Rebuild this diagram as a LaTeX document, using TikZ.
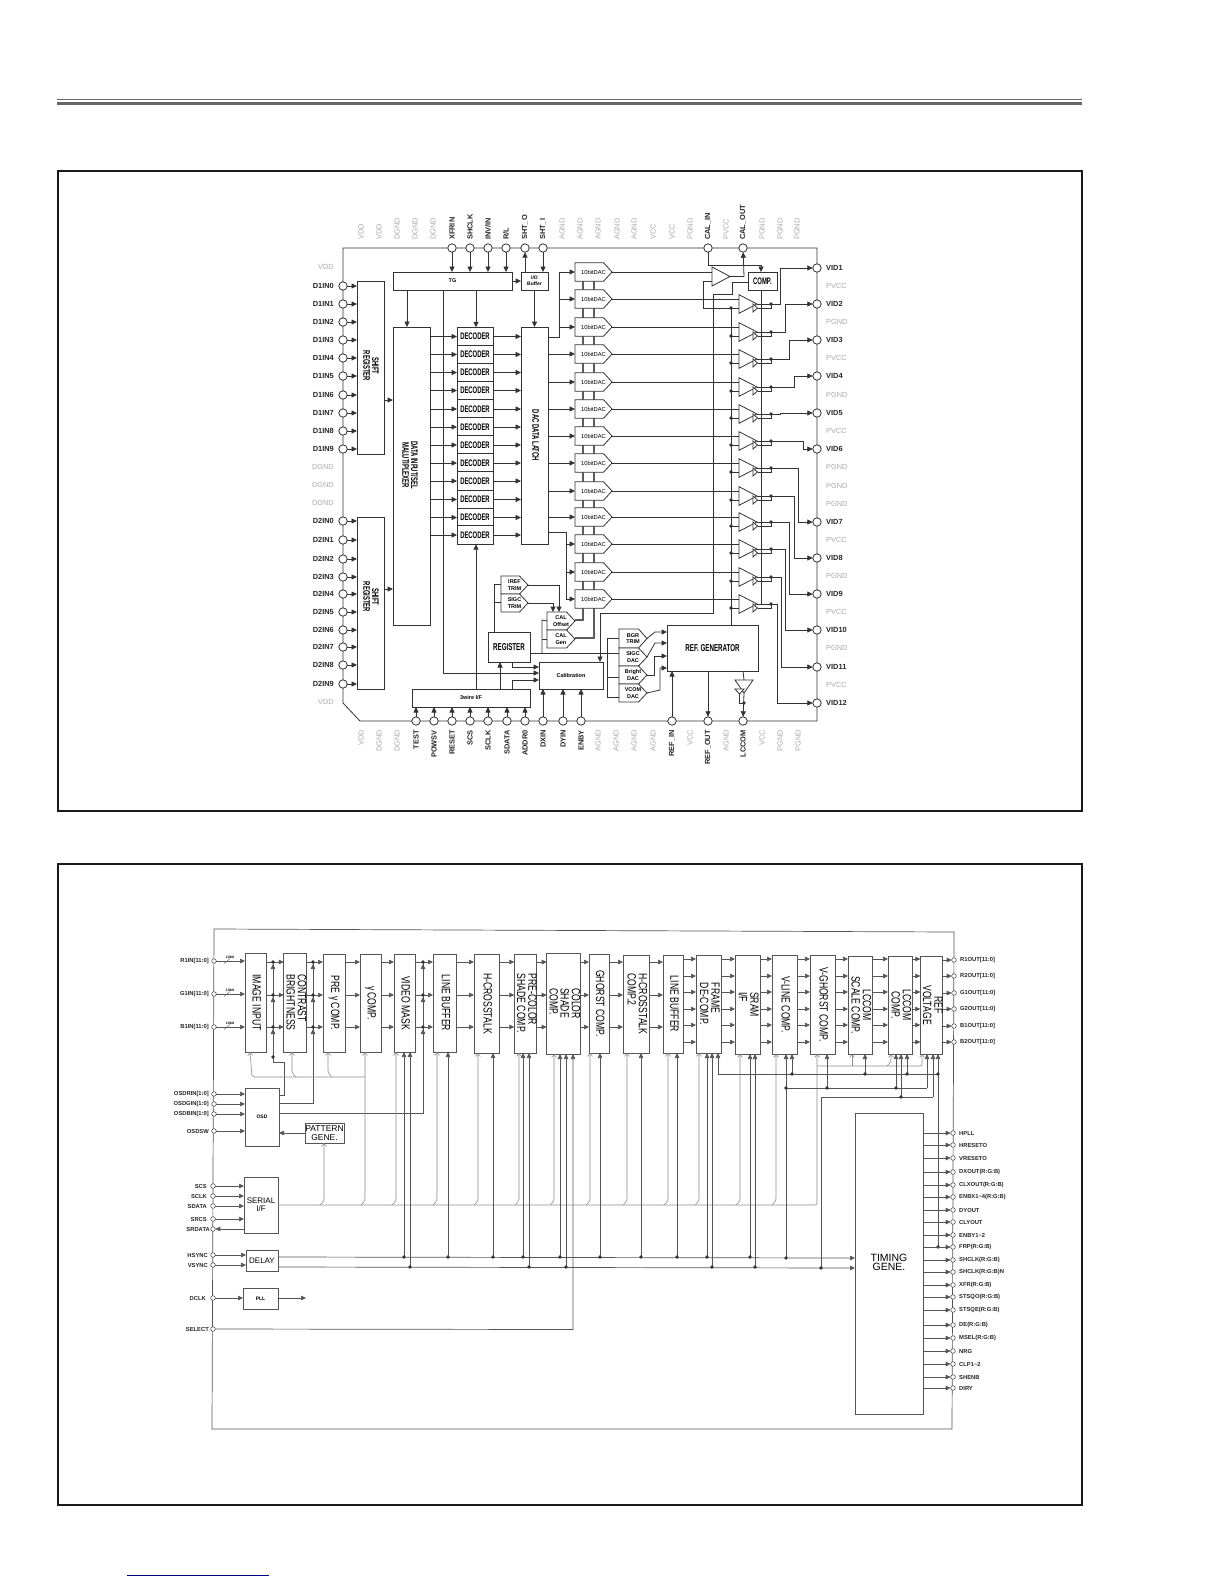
\documentclass[tikz,border=0pt]{standalone}
\usepackage{fontspec}
\usepackage{graphicx}
\setmainfont{Liberation Sans}
\newfontfamily\nar{Liberation Sans}[FakeStretch=0.72]
\newfontfamily\narb{Liberation Sans}[FakeStretch=0.62]
\usetikzlibrary{arrows.meta}
\definecolor{wire}{HTML}{333333}
\definecolor{wireb}{HTML}{555555}
\definecolor{graytxt}{HTML}{ABABAB}
\definecolor{linkblue}{HTML}{00008B}
\renewcommand\arraystretch{.78}
\newcommand\rotC[1]{\rotatebox{-90}{\begin{tabular}{@{}c@{}}#1\end{tabular}}}
\newcommand\rotL[1]{\rotatebox{-90}{\begin{tabular}{@{}l@{}}#1\end{tabular}}}
\tikzset{
  w/.style={draw=wire,line width=.8},
  arr/.style={w,-{Triangle[length=5.5pt,width=5pt]}},
  wb/.style={draw=wireb,line width=.7},
  arb/.style={wb,-{Triangle[length=5pt,width=4.5pt]}},
  gw/.style={draw=black!45,line width=.6,rounded corners=2pt},
  oa/.style={-{Straight Barb[length=3pt,width=5pt]}},
  blk/.style={draw=wire,line width=.9,fill=white,inner sep=0,outer sep=0,align=center},
  blkb/.style={draw=wireb,line width=.8,fill=white,inner sep=0,outer sep=0,align=center,font=\nar\fontsize{12}{12}\selectfont},
  pen/.style={draw=wire,line width=.8,fill=white},
  pinT/.style={circle,draw=wire,line width=.8,fill=white,minimum size=8.4pt,inner sep=0,outer sep=0},
  pinB/.style={circle,draw=wireb,line width=.6,fill=white,minimum size=4.6pt,inner sep=0,outer sep=0},
  bl/.style={inner sep=0,font=\bfseries\fontsize{7.4}{8}\selectfont,text=black!85},
  gl/.style={inner sep=0,font=\fontsize{7.4}{8}\selectfont,text=graytxt},
  bs/.style={inner sep=0,font=\bfseries\fontsize{5.8}{6}\selectfont,text=black!85},
  sm/.style={inner sep=0,align=center,font=\bfseries\fontsize{5.5}{6.6}\selectfont},
}
\newcommand\bx[6][]{\node[blk,minimum width={((#4)-(#2))*1pt},minimum height={((#5)-(#3))*1pt},#1] (#6) at ({(#2+#4)/2},{(#3+#5)/2}) {};}
\newcommand\bxt[7][]{\node[blk,minimum width={((#4)-(#2))*1pt},minimum height={((#5)-(#3))*1pt},#1] (#6) at ({(#2+#4)/2},{(#3+#5)/2}) {#7};}
\newcommand\bbx[7][]{\node[blkb,minimum width={((#4)-(#2))*1pt},minimum height={((#5)-(#3))*1pt},#1] (#6) at ({(#2+#4)/2},{(#3+#5)/2}) {#7};}
\newcommand\penta[7][sm]{%
  \draw[pen] (#3,#4) -- (#5,#4) -- ({#5+8.5},{(#4+#6)/2}) -- (#5,#6) -- (#3,#6) -- cycle;
  \node[#1,minimum width={(#5+8.5-#3)*1pt},minimum height={((#6)-(#4))*1pt},outer sep=0] (#2) at ({(#3+#5+8.5)/2},{(#4+#6)/2}) {#7};}
\newcommand\tri[5]{%
  \draw[pen] (#2,#3) -- (#4,{(#3+#5)/2}) -- (#2,#5) -- cycle;
  \node[inner sep=0,outer sep=0,minimum width={((#4)-(#2))*1pt},minimum height={((#5)-(#3))*1pt}] (#1) at ({(#2+#4)/2},{(#3+#5)/2}) {};}
\newcommand\dotat[1]{\fill[wire] (#1) circle (1.8);}
\begin{document}
\begin{tikzpicture}[x=1pt,y=-1pt]
\useasboundingbox (0,0) rectangle (1224,1584);
\fill[white] (0,0) rectangle (1224,1584);
% page furniture
\draw[black!60,line width=1.3] (57,99.5) -- (1082,99.5);
\draw[black!60,line width=3] (57,103.5) -- (1082,103.5);
\draw[black!90,line width=2] (57.7,170.7) rectangle (1081.5,811);
\draw[black!90,line width=2] (57.7,863.5) rectangle (1081.5,1504.7);
\draw[linkblue,line width=1] (127,1575) -- (269,1575);
%%%%%%%%%%%%%%%%%%%%%%%%%%%% TOP DIAGRAM
\draw[w] (343,248) -- (817,248) -- (817,721) -- (360,721) -- (343,703) -- cycle;
% power labels
\foreach \x/\lab [count=\i] in {361/VDD,379/VDD,397/DGND,415/DGND,433/DGND,562/AGND,580/AGND,598/AGND,617/AGND,634/AGND,653/VCC,672/VCC,690/PGND,726/PVCC,762/PGND,780/PGND,797/PGND}
  \node[gl,rotate=90,anchor=west] (tg\i) at (\x,240) {\lab};
\foreach \x/\lab in {452/XFRIN,470/SHCLK,488/{INV/IN},506/{R/L},525/SHT\_O,543/SHT\_I,708/CAL\_IN,743/CAL\_OUT}{
  \node[pinT] (tp\x) at (\x,248) {};
  \node[bl,rotate=90,anchor=west] (tl\x) at (\x,240) {\lab};}
\foreach \x/\lab [count=\i] in {361/VDD,379/DGND,397/DGND,598/AGND,616/AGND,634/AGND,653/AGND,690/VCC,726/AGND,762/VCC,780/PGND,798/PGND}
  \node[gl,rotate=90,anchor=east] (bg\i) at (\x,730) {\lab};
\foreach \x/\lab in {416/TEST,434/POWSV,452/RESET,470/SCS,488/SCLK,507/SDATA,525/ADDR0,543/DXIN,563/DYIN,581/ENBY,672/REF\_IN,708/REF\_OUT,743/LCCOM}{
  \node[pinT] (bp\x) at (\x,721) {};
  \node[bl,rotate=90,anchor=east] (bl\x) at (\x,730) {\lab};}
\foreach \y/\lab [count=\i] in {267/VDD,467/DGND,485/DGND,503/DGND,702/VDD}
  \node[gl,anchor=east] (lg\i) at (334,\y) {\lab};
\foreach \y/\lab [count=\i] in {286/PVCC,322/PGND,358/PVCC,395/PGND,431/PVCC,467/PGND,486/PGND,504/PGND,540/PVCC,576/PGND,612/PVCC,648/PGND,685/PVCC}
  \node[gl,anchor=west] (rg\i) at (826,\y) {\lab};
% blocks
\bx{357}{281}{384}{454}{sr1}
\node[inner sep=0,font=\narb\bfseries\fontsize{9.5}{9.5}\selectfont] (sr1t) at (370,366) {\rotC{SHIFT\\REGISTER}};
\bx{357}{517}{384}{689}{sr2}
\node[inner sep=0,font=\narb\bfseries\fontsize{9.5}{9.5}\selectfont] (sr2t) at (370,597) {\rotC{SHIFT\\REGISTER}};
\bxt[font=\bfseries\fontsize{5.5}{6}\selectfont]{393}{272}{512}{290}{tg}{TG}
\bxt[font=\bfseries\fontsize{5}{6}\selectfont]{521}{272}{548}{290}{io}{I/O\\Buffer}
\bx{393}{327}{430}{625}{mux}
\node[inner sep=0,font=\narb\bfseries\fontsize{9.5}{9.5}\selectfont] (muxt) at (409,465) {\rotC{DATA INPUT/SEL\\MALUTIPLEXER}};
\bxt[font=\narb\bfseries\fontsize{9.5}{9.5}\selectfont]{521}{327}{548}{544}{latch}{\rotC{DAC DATA LATCH}}
\foreach \cy [count=\i] in {336.5,354.5,372.5,390.5,409,427,445,463,481,499.5,517.5,535}{
  \bxt[font=\narb\bfseries\fontsize{9.5}{10}\selectfont]{457}{\cy-9.2}{493}{\cy+9.2}{dec\i}{DECODER}}
\foreach \i in {1,...,12}{
  \draw[arr] (mux.east |- dec\i) -- (dec\i.west);
  \draw[arr] (dec\i.east) -- (latch.west |- dec\i);}
% power bars between DACs
\draw[draw=wire!80,line width=1.1] (583,272) -- (583,620) -- (575,620);
\draw[draw=wire!80,line width=1.1] (594,272) -- (594,638) -- (575,638);
% DACs
\foreach \cy [count=\i] in {272,299,327,354,382,409,436,463,491,517,544,572,599}{
  \penta[inner sep=0,font=\fontsize{5.8}{6}\selectfont]{dac\i}{575}{\cy-9.3}{603.5}{\cy+9.3}{10bitDAC}}
% latch to DAC
\draw[w] (latch.east |- 0,337) -- (559,337) -- (559,272);
\foreach \i in {1,2,3} \draw[arr] (559,0 |- dac\i) -- (dac\i.west);
\foreach \i in {4,...,10} \draw[arr] (latch.east |- dac\i) -- (dac\i.west);
\draw[w] (latch.east |- 0,532) -- (566,532) -- (566,599);
\foreach \i in {11,12,13} \draw[arr] (566,0 |- dac\i) -- (dac\i.west);
% shift registers
\foreach \y/\lab [count=\i] in {286/D1IN0,304/D1IN1,322/D1IN2,340/D1IN3,358/D1IN4,376/D1IN5,395/D1IN6,413/D1IN7,431/D1IN8,449/D1IN9}{
  \node[pinT] (da\i) at (343,\y) {};
  \node[bl,anchor=east] (dal\i) at (334,\y) {\lab};
  \draw[arr] (da\i) -- (sr1.west |- da\i);}
\foreach \y/\lab [count=\i] in {521/D2IN0,540/D2IN1,559/D2IN2,577/D2IN3,594/D2IN4,612/D2IN5,630/D2IN6,647/D2IN7,665/D2IN8,684/D2IN9}{
  \node[pinT] (db\i) at (343,\y) {};
  \node[bl,anchor=east] (dbl\i) at (334,\y) {\lab};
  \draw[arr] (db\i) -- (sr2.west |- db\i);}
\draw[arr] (sr1.east |- 0,400) -- (mux.west |- 0,400);
\draw[arr] (sr2.east |- 0,589) -- (mux.west |- 0,589);
% TG
\foreach \x in {452,470,488,506} \draw[arr] (tp\x) -- (tg.north -| tp\x);
\draw[arr] (io.north -| tp525) -- (tp525);
\draw[arr] (tp543) -- (io.north -| tp543);
\draw[arr] (tg.east) -- (io.west);
\draw[arr] (tg.south -| 407,0) -- (mux.north -| 407,0);
\draw[arr] (tg.south -| 476,0) -- (dec1.north -| 476,0);
\draw[arr] (io.south) -- (latch.north -| io.south);
% lower left blocks
\bxt[font=\narb\bfseries\fontsize{10}{10}\selectfont]{488}{632}{530}{662}{reg}{REGISTER}
\bxt[font=\bfseries\fontsize{5.5}{6}\selectfont]{412}{689}{530}{707}{ti}{3wire I/F}
\bxt[font=\bfseries\fontsize{5.5}{6}\selectfont]{539}{662}{603}{689}{cal}{Calibration}
\draw[w] (tg.south -| 443,0) -- (443,673);
\draw[arr] (443,673) -- (cal.west |- 0,673);
\foreach \x in {416,434,452,470,488,507,525} \draw[arr] (bp\x) -- (ti.south -| bp\x);
\foreach \x in {543,563,581} \draw[arr] (bp\x) -- (cal.south -| bp\x);
\draw[arr] (ti.north -| 476,0) -- (dec12.south -| 476,0);
\draw[arr] (ti.north -| 500,0) -- (reg.south -| 500,0);
\draw[arr] (ti.north -| 512,0) -- (512,680) -- (cal.west |- 0,680);
\draw[arr] (reg.south -| 512,0) -- (512,667) -- (cal.west |- 0,667);
\penta{iref}{501}{576}{519.5}{594}{IREF\\TRIM}
\penta{sigc}{501}{594}{519.5}{612}{SIGC\\TRIM}
\penta{caloff}{547}{612}{566.5}{630}{CAL\\Offset}
\penta{calgen}{547}{630}{566.5}{648}{CAL\\Gen}
\draw[w] (reg.north -| 494,0) -- (494,584) -- (iref.west |- 0,584);
\draw[w] (494,602) -- (sigc.west |- 0,602);
\draw[arr] (iref.east) -- (559,585) -- (caloff.north -| 559,0);
\draw[arr] (sigc.east) -- (553,603) -- (caloff.north -| 553,0);
\draw[w] (reg.east |- 0,653) -- (607,653);
\draw[w] (542,653) -- (542,620) -- (caloff.west);
\draw[w] (542,639) -- (calgen.west);
% right column
\bxt[font=\narb\bfseries\fontsize{10}{10}\selectfont]{667}{625}{758}{671}{gen}{REF. GENERATOR}
\penta{bgr}{619}{629}{638.5}{648}{BGR\\TRIM}
\penta{sigd}{619}{648}{638.5}{666}{SIGC\\DAC}
\penta{brt}{619}{666}{638.5}{684}{Bright\\DAC}
\penta{vcom}{619}{684}{638.5}{702}{VCOM\\DAC}
\draw[w] (bgr.west) -- (607,0 |- bgr.west) -- (607,697) -- (vcom.west |- 0,697);
\draw[w] (607,653) -- (sigd.west |- 0,653);
\draw[w] (607,677) -- (brt.west |- 0,677);
\draw[arr] (bgr.east) -- (655,632) -- (gen.west |- 0,632);
\draw[arr] (sigd.east) -- (655,643) -- (gen.west |- 0,643);
\draw[arr] (brt.east) -- (654,675) -- (654,656) -- (gen.west |- 0,656);
\draw[arr] (vcom.east) -- (660,690) -- (660,668) -- (gen.west |- 0,668);
\draw[arr] (bp672) -- (gen.south -| bp672);
\draw[arr] (gen.south -| bp708) -- (bp708);
\draw[w] (gen.south -| bp743) -- (744,680);
\draw[pen] (735,680) -- (753,680) -- (744,693) -- cycle;
\node[inner sep=0,outer sep=0,minimum width=18pt,minimum height=13pt] (lcb) at (744,686.5) {};
\draw[pen] (735,689) -- (744,689) -- (739.5,694) -- cycle;
\draw[w] (739.5,694) -- (739.5,703) -- (744,703);
\draw[arr] (lcb.south) -- (bp743);
\dotat{744,703}
% CAL buffer and comparator
\bxt[font=\narb\bfseries\fontsize{9.5}{10}\selectfont]{748}{272}{777}{290}{comp}{COMP.}
\tri{amp0}{712}{267}{730}{286}
\draw[w] (dac1.east) -- (amp0.west |- dac1);
\draw[arr] (amp0.east) -- (744,276.5) -- (tp743);
\draw[arr] (tp708) -- (708,265) -- (761,265) -- (comp.north -| 761,0);
\draw[w] (amp0.west |- 0,281) -- (703,281) -- (703,308) -- (731,308) -- (gen.north -| 731,0);
\draw[arr] (comp.west |- 0,282) -- (732,282) -- (732,294) -- (713,294) -- (713,613) -- (600,613) -- (cal.north -| 600,0);
\draw[w] (comp.south -| 761,0) -- (761,604);
% amps
\foreach \cy/\j [count=\i] in {304/2,332/3,359/4,387/5,414/6,441/7,468/8,496/9,522/10,549/11,577/12,604/13}{
  \tri{amp\i}{739}{\cy-9.3}{757}{\cy+9.3}
  \draw[w] (dac\j.east) -- (amp\i.west |- dac\j);
  \draw[w] (731,\cy+4) -- (amp\i.west |- 0,\cy+4);
  \dotat{731,\cy+4}
  \draw[pen] (753,\cy) -- (757.5,\cy+4) -- (753,\cy+8) -- cycle;
  \draw[w] (757.5,\cy+4) -- (771,\cy+4) -- (771,\cy);
  \draw[w] (amp\i.east) -- (771,\cy);
  \coordinate (o\i) at (771,\cy);
}
% VID pins
\foreach \y [count=\i] in {268,304,340,376,413,449,522,558,594,630,667,703}{
  \node[pinT] (v\i) at (817,\y) {};
  \node[bl,anchor=west] (vl\i) at (826,\y) {VID\i};}
\foreach \i/\cy/\rx/\vy in {1/304/780/268,2/332/785/304,3/359/789/340,4/387/794/376,5/414/780/413,6/441/803/449,7/468/798/522,8/496/794/558,9/522/789/594,10/549/785/630,11/577/781/667,12/604/777/703}{
  \draw[arr] (o\i) -- (\rx,\cy) -- (\rx,\vy) -- (v\i);
  \dotat{771,\cy}
}
%%%%%%%%%%%%%%%%%%%%%%%%%%%% BOTTOM DIAGRAM
\draw[wb] (214,929) -- (954,932) -- (952,1429) -- (212,1429) -- cycle;
\bbx{245}{953}{266}{1052}{b1}{\rotC{IMAGE INPUT}}
\bbx{284}{953}{306}{1052}{b2}{\rotL{CONTRAST\\BRIGHTNESS}}
\bbx{323}{954}{345}{1052}{b3}{\rotC{PRE γ COMP.}}
\bbx{360}{954}{381}{1052}{b4}{\rotC{γ COMP.}}
\bbx{394}{954}{415}{1052}{b5}{\rotC{VIDEO MASK}}
\bbx{433}{954}{456}{1052}{b6}{\rotC{LINE BUFFER}}
\bbx{474}{954}{499}{1053}{b7}{\rotC{H-CROSSTALK}}
\bbx{515}{954}{536}{1053}{b8}{\rotL{PRE-COLOR\\SHADE COMP.}}
\bbx{549}{953}{578}{1054}{b9}{\rotL{COLOR\\SHADE\\COMP.}}
\bbx{589}{954}{609}{1053}{b10}{\rotC{GHORST COMP.}}
\bbx{623}{955}{649}{1053}{b11}{\rotL{H-CROSSTALK\\COMP.2}}
\bbx{663}{955}{683}{1053}{b12}{\rotC{LINE BUFFER}}
\bbx{696}{955}{721}{1053}{b13}{\rotL{FRAME\\DE-COMP.}}
\bbx{735}{955}{760}{1054}{b14}{\rotL{SRAM\\I/F}}
\bbx{772}{955}{797}{1054}{b15}{\rotC{V-LINE COMP.}}
\bbx{810}{955}{835}{1054}{b16}{\rotC{V-GHORST COMP.}}
\bbx{848}{956}{872}{1054}{b17}{\rotC{LCCOM\\SCALE COMP.}}
\bbx{888}{956}{912}{1054}{b18}{\rotC{LCCOM\\COMP.}}
\bbx{921}{956}{942}{1054}{b19}{\rotC{REF\\VOLTAGE}}
\bbx[font=\bfseries\fontsize{5}{6}\selectfont]{245}{1088}{279}{1146}{osd}{OSD}
\bbx[font=\fontsize{8.5}{8.5}\selectfont]{305}{1123}{344}{1143}{pat}{PATTERN\\GENE.}
\bbx[font=\fontsize{8}{8}\selectfont]{244}{1177}{278}{1233}{ser}{SERIAL\\I/F}
\bbx[font=\fontsize{8}{8}\selectfont]{246}{1250}{278}{1271}{del}{DELAY}
\bbx[font=\bfseries\fontsize{5}{6}\selectfont]{243}{1288}{278}{1309}{pll}{PLL}
\bbx[font=\fontsize{10.5}{10.5}\selectfont]{855}{1113}{923}{1414}{tim}{\raisebox{5pt}{\begin{tabular}{@{}c@{}}TIMING\\GENE.\end{tabular}}}
% 3-row and 6-row signal paths
\foreach \a/\b in {b1/b2,b2/b3,b3/b4,b4/b5,b5/b6,b6/b7,b7/b8,b8/b9,b9/b10,b10/b11,b11/b12}
  \foreach \y in {962,995,1027}
    \draw[arb] (\a.east |- 0,\y) -- (\b.west |- 0,\y);
\foreach \a/\b in {b12/b13,b13/b14,b14/b15,b15/b16,b16/b17,b17/b18,b18/b19}
  \foreach \y in {959,976,992,1009,1025,1042}
    \draw[arb] (\a.east |- 0,\y) -- (\b.west |- 0,\y);
% input pins
\foreach \y/\lab [count=\i] in {961/R1IN[11:0],994/G1IN[11:0],1027/B1IN[11:0]}{
  \node[pinB] (ri\i) at (214,\y) {};
  \node[bs,anchor=east] (ril\i) at (209,\y) {\lab};
  \draw[arb] (ri\i) -- (b1.west |- ri\i);
  \draw[wb,line width=.4] (224,\y+2.5) -- (230,\y-2.5);
  \node[inner sep=0,font=\bfseries\fontsize{3.5}{4}\selectfont] (rib\i) at (230,\y-4) {10bit};
}
\foreach \y/\lab [count=\i] in {1094/OSDRIN[1:0],1104/OSDGIN[1:0],1114/OSDBIN[1:0],1131/OSDSW}{
  \node[pinB] (oi\i) at (214,\y) {};
  \node[bs,anchor=east] (oil\i) at (209,\y) {\lab};
  \draw[arb] (oi\i) -- (osd.west |- oi\i);}
\foreach \y/\lab [count=\i] in {1186/SCS,1196/SCLK,1206/SDATA,1219/SRCS}{
  \node[pinB] (si\i) at (213,\y) {};
  \node[bs,anchor=east] (sil\i) at (207,\y) {\lab};
  \draw[arb] (si\i) -- (ser.west |- si\i);}
\node[pinB] (srd) at (213,1229) {};
\node[bs,anchor=east] (srdl) at (210,1229) {SRDATA};
\draw[arb] (ser.west |- srd) -- (srd);
\node[pinB] (hs) at (213,1255) {};
\node[bs,anchor=east] (hsl) at (208,1255) {HSYNC};
\draw[arb] (hs) -- (del.west |- hs);
\node[pinB] (vs) at (213,1265) {};
\node[bs,anchor=east] (vsl) at (208,1265) {VSYNC};
\draw[arb] (vs) -- (del.west |- vs);
\node[pinB] (dc) at (213,1298) {};
\node[bs,anchor=east] (dcl) at (206,1298) {DCLK};
\draw[arb] (dc) -- (pll.west |- dc);
\coordinate (pllo) at (306,1298);
\draw[arb] (pll.east |- dc) -- (pllo);
\node[pinB] (se) at (213,1329) {};
\node[bs,anchor=east] (sel) at (209,1329) {SELECT};
\draw[arb] (se) -- (573,1329.5) -- (b9.south -| 573,0);
\draw[arb] (pat.west |- 0,1133) -- (osd.east |- 0,1133);
% OSD feedback columns
\draw[wb] (osd.east |- 0,1095) -- (284,1095) -- (284,1062) -- (273,1062) -- (273,962);
\draw[wb] (osd.east |- 0,1103) -- (313,1103) -- (313,962);
\draw[wb] (osd.east |- 0,1113) -- (423,1113) -- (423,962);
\foreach \x in {273,313,423}{
  \foreach \y in {962,995,1027}{
    \draw[arb] (\x,\y+9) -- (\x,\y+2);
    \dotat{\x,\y}}}
\dotat{273,1057}
% serial bus (thin grey)
\draw[gw,oa] (ser.east |- 0,1205) -- (817,1205) -- (b16.south -| 817,0);
\foreach \x/\b in {324/pat,365/b4,396/b5,437/b6,478/b7,519/b8,554/b9,590/b10,627/b11,668/b12,699/b13,740/b14,776/b15}
  \draw[gw,oa] (\x-4,1205) -- (\x,1201) -- (\b.south -| \x,0);
\draw[gw,oa] (365,1077) -- (252,1077) -- (b1.south -| 250,0);
\draw[gw,oa] (296,1077) -- (292,1073) -- (b2.south -| 292,0);
\draw[gw,oa] (332,1077) -- (328,1073) -- (b3.south -| 328,0);
\draw[gw,oa] (817,1066) -- (922,1066) -- (b19.south -| 922,0);
\draw[gw,oa] (887,1066) -- (891,1062) -- (b18.south -| 891,0);
\draw[gw,oa] (852,1066) -- (b17.south -| 852,0);
% HSYNC / VSYNC
\draw[arb] (del.east |- 0,1257) -- (tim.west |- 0,1258);
\draw[arb] (del.east |- 0,1267) -- (tim.west |- 0,1268);
\foreach \x/\b in {404/b5,448/b6,493/b7,523/b8,560/b9,600/b10,641/b11,677/b12,707/b13,750/b14}{
  \draw[arb] (\x,1257) -- (\b.south -| \x,0);
  \dotat{\x,1257}}
\foreach \x/\b in {410/b5,529/b8,566/b9,712/b13,755/b14}{
  \draw[arb] (\x,1267) -- (\b.south -| \x,0);
  \dotat{\x,1267}}
\draw[arb] (786,1258) -- (b15.south -| 786,0);
\dotat{786,1258}
\draw[wb] (786,1088) -- (927,1088);
\draw[arb] (927,1088) -- (b19.south -| 927,0);
\draw[arb] (827,1088) -- (b16.south -| 827,0);
\draw[arb] (896,1088) -- (b18.south -| 896,0);
\dotat{786,1088}\dotat{827,1088}\dotat{896,1088}
\draw[wb] (821,1268) -- (821,1097) -- (933,1097);
\draw[arb] (933,1097) -- (b19.south -| 933,0);
\draw[arb] (901,1097) -- (b18.south -| 901,0);
\dotat{821,1268}\dotat{901,1097}
\draw[arb] (938,1074) -- (718,1074) -- (b13.south -| 718,0);
\draw[arb] (792,1074) -- (b15.south -| 792,0);
\draw[arb] (865,1074) -- (b17.south -| 865,0);
\draw[arb] (907,1074) -- (b18.south -| 907,0);
\draw[arb] (938,1247) -- (b19.south -| 938,0);
\dotat{792,1074}\dotat{865,1074}\dotat{907,1074}\dotat{938,1074}\dotat{938,1247}
% output pins
\foreach \y/\lab [count=\i] in {960/R1OUT[11:0],976/R2OUT[11:0],993/G1OUT[11:0],1009/G2OUT[11:0],1026/B1OUT[11:0],1042/B2OUT[11:0]}{
  \node[pinB] (ro\i) at (954,\y) {};
  \node[bs,anchor=west] (rol\i) at (960,\y) {\lab};
  \draw[arb] (b19.east |- ro\i) -- (ro\i);}
\foreach \y/\lab [count=\i] in {1133/HPLL,1145/HRESETO,1158/VRESETO,1172/DXOUT(R:G:B),1185/CLXOUT(R:G:B),1197/ENBX1\textasciitilde4(R:G:B),1210/DYOUT,1222/CLYOUT,1235/ENBY1\textasciitilde2,1247/FRP(R:G:B),1260/SHCLK(R:G:B),1272/SHCLK(R:G:B)N,1285/XFR(R:G:B),1297/STSQO(R:G:B),1310/STSQE(R:G:B),1325/DE(R:G:B),1338/MSEL(R:G:B),1351/NRG,1364/CLP1\textasciitilde2,1377/SHENB,1388/DIRY}{
  \node[pinB] (to\i) at (953,\y) {};
  \node[bs,anchor=west] (tol\i) at (959,\y) {\lab};
  \draw[arb] (tim.east |- to\i) -- (to\i);}
\end{tikzpicture}
\end{document}
